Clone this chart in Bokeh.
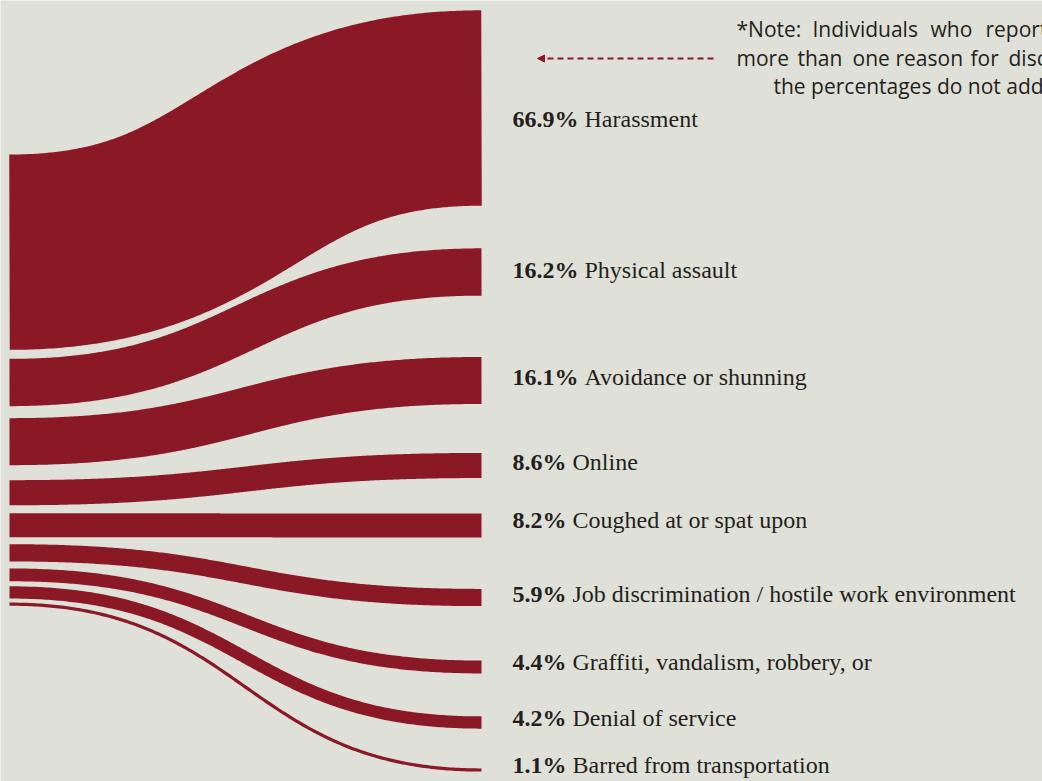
import numpy as np
from bokeh.plotting import figure
from bokeh.models import ColumnDataSource, Range1d, Arrow, NormalHead
from bokeh.embed import file_html
from bokeh.resources import INLINE
from bokeh.core.properties import value

# ---------------- data ----------------
categories = [
    "Harassment",
    "Physical assault",
    "Avoidance or shunning",
    "Online",
    "Coughed at or spat upon",
    "Job discrimination / hostile work environment",
    "Graffiti, vandalism, robbery, or",
    "Denial of service",
    "Barred from transportation",
]
percentages = [66.9, 16.2, 16.1, 8.6, 8.2, 5.9, 4.4, 4.2, 1.1]
pct_labels = ["66.9%", "16.2%", "16.1%", "8.6%", "8.2%", "5.9%", "4.4%", "4.2%", "1.1%"]

note_line1 = ["*Note:", "Individuals", "who", "reported"]
note_line2 = ["more", "than", "one", "reason", "for", "discrimination,"]
note_line3 = ["the percentages do not add up to 100%."]

# ---------------- layout / style ----------------
BG = "#dfe0d7"
RED = "#8a1825"
INK = "#231f20"
PX_PER_PCT = 2.92
LEFT_X, RIGHT_X = 9, 481
LEFT_TOP = 154
left_gaps = [9, 12, 15, 8, 7, 7, 5, 4]
right_centers = [107.5, 271.5, 380, 465, 525, 597, 666.5, 722, 769.5]
TEXT_SHIFT = 8.5  # rendered glyphs sit lower than the requested baseline
label_baselines = [127, 278, 385, 470, 528, 602, 670, 726, 773]
LABEL_X = 512
LABEL_SIZE = 24
note1_x = [736, 812, 930, 985]
note2_x = [736, 797, 852, 895, 970, 1008]
note3_x = [773]
note_baselines = [37, 66, 94]
NOTE_SIZE = 21

# left stack centres from the percentages
left_centers = []
cur = LEFT_TOP
for i, pct in enumerate(percentages):
    h = pct * PX_PER_PCT
    left_centers.append(cur + h / 2)
    cur += h + (left_gaps[i] if i < len(left_gaps) else 0)

t = np.linspace(0, 1, 240)
span = RIGHT_X - LEFT_X
c1 = LEFT_X + 0.5 * span
c2 = RIGHT_X - 0.5 * span
bx = (1 - t) ** 3 * LEFT_X + 3 * (1 - t) ** 2 * t * c1 + 3 * (1 - t) * t ** 2 * c2 + t ** 3 * RIGHT_X
xs, ys, ws = [], [], []
for yl, yr, pct in zip(left_centers, right_centers, percentages):
    by = (1 - t) ** 3 * yl + 3 * (1 - t) ** 2 * t * yl + 3 * (1 - t) * t ** 2 * yr + t ** 3 * yr
    xs.append(list(bx))
    ys.append(list(by))
    ws.append(pct * PX_PER_PCT)

band_src = ColumnDataSource(dict(xs=xs, ys=ys, w=ws, cat=categories))

# approximate bold serif advance widths (em) to place the name after the percent
bold_w = {"0": .5, "1": .5, "2": .5, "3": .5, "4": .5, "5": .5, "6": .5, "7": .5, "8": .5, "9": .5, ".": .25, "%": 1.0}
name_x = [LABEL_X + LABEL_SIZE * (sum(bold_w[c] for c in s) + 0.25) for s in pct_labels]
label_y = [b - TEXT_SHIFT for b in label_baselines]
note_y = [b - TEXT_SHIFT for b in note_baselines]

p = figure(width=1042, height=781, output_backend="svg", toolbar_location=None,
           x_range=Range1d(0, 1042), y_range=Range1d(781, 0),
           min_border=0, background_fill_color=BG, border_fill_color=BG)
p.axis.visible = False
p.grid.visible = False
p.outline_line_color = None

p.multi_line(xs="xs", ys="ys", line_width="w", line_color=RED, line_cap="butt",
             line_join="round", source=band_src)

p.text(x=[LABEL_X] * len(pct_labels), y=label_y, text=pct_labels,
       text_font=value("Liberation Serif"), text_font_style="bold",
       text_font_size=f"{LABEL_SIZE}px", text_color=INK,
       text_baseline="alphabetic", text_align="left")
p.text(x=name_x, y=label_y, text=categories,
       text_font=value("Liberation Serif"), text_font_size=f"{LABEL_SIZE}px",
       text_color=INK, text_baseline="alphabetic", text_align="left")

for words, xpos, yb in zip([note_line1, note_line2, note_line3],
                           [note1_x, note2_x, note3_x], note_y):
    p.text(x=xpos, y=[yb] * len(words), text=words, text_font=value("Open Sans"),
           text_font_size=f"{NOTE_SIZE}px", text_color=INK, text_baseline="alphabetic",
           text_align="left")

p.add_layout(Arrow(end=NormalHead(size=7, fill_color=RED, line_color=RED, line_width=1),
                   x_start=713, y_start=58, x_end=537, y_end=58,
                   line_color=RED, line_width=2, line_dash="6 4"))

open("out.html", "w").write(file_html(p, INLINE))
